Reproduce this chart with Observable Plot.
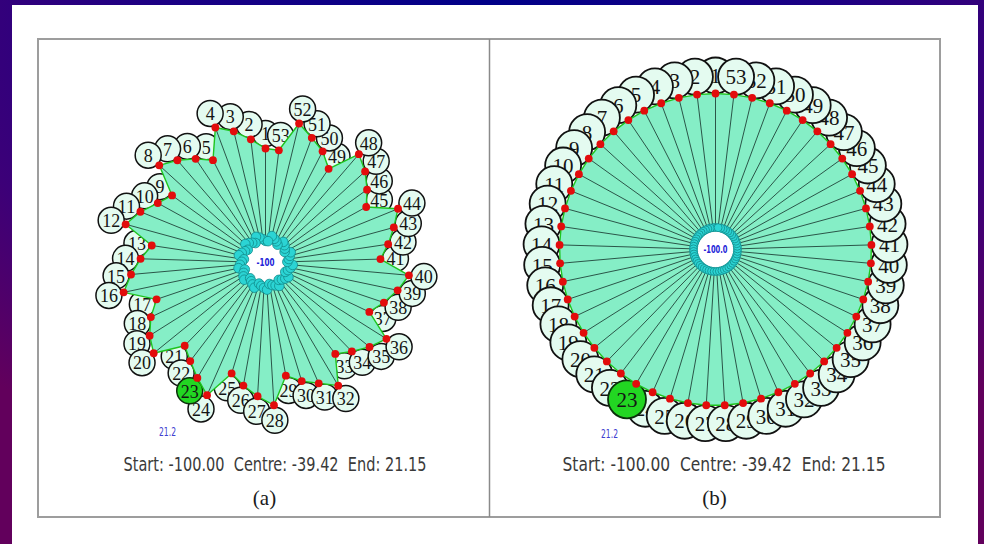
<!DOCTYPE html>
<html>
<head>
<meta charset="utf-8">
<script src="https://cdn.jsdelivr.net/npm/d3@7"></script>
<script src="https://cdn.jsdelivr.net/npm/@observablehq/plot@0.6"></script>
<style>
  html, body { margin: 0; padding: 0; }
  body {
    width: 984px; height: 544px; overflow: hidden; position: relative;
    background: radial-gradient(ellipse 75% 95% at 50% 0%, #000088 0%, #1c0084 45%, #3c0078 75%, #62005c 100%);
  }
  #panel { position: absolute; left: 12px; top: 5px; width: 966px; height: 539px; background: #ffffff; }
  #chart { position: absolute; left: 0; top: 0; }
</style>
</head>
<body>
<div id="panel"></div>
<div id="chart"></div>
<script>
// ---- data ----
const nodeIds = [1,2,3,4,5,6,7,8,9,10,11,12,13,14,15,16,17,18,19,20,21,22,23,24,25,26,27,28,29,30,31,32,33,34,35,36,37,38,39,40,41,42,43,44,45,46,47,48,49,50,51,52,53];
// (a) distance of each node from the centre
const distA = [114,124,135,144,115,125,135,144,115,123,135,145,115,125,135,145,115,127,137,144,116,124,134,145,116,125,134,143,115,124,132,143,115,124,134,143,115,125,135,144,115,124,133,143,115,125,135,143,113,125,133,143,113];
// (b) distance of each node from the centre
const distB = [156,156,156,156,156,156,156,156,156,156,156,156,156,156,156,156,156,156,156,156,156,156,156,156,156,156,156,156,156,156,156,156,156,156,156,156,156,156,156,156,156,156,156,156,156,156,156,156,156,156,156,156,156];
const selectedNode = 23;
const centreLabels = ["-100", "-100.0"];
const selectedValueLabels = ["21.2", "21.2"];
const statsLabels = ["Start: -100.00  Centre: -39.42  End: 21.15", "Start: -100.00  Centre: -39.42  End: 21.15"];
const panelLabels = ["(a)", "(b)"];

// ---- layout ----
const W = 984, H = 544;
const panels = [
  {cx: 265, cy: 262, inner: r => r * 0.19, labelAt: r => r + 15, circleR: 13, fontSize: 18, innerDotR: 4.8,
   valueX: 167, valueY: 431, statsX: 274.5, statsY: 464, statsLen: 303, tagX: 264, tagY: 498},
  {cx: 715, cy: 249, inner: r => 22, labelAt: r => 174, circleR: 18, fontSize: 21, innerDotR: 4,
   valueX: 609, valueY: 433, statsX: 723.5, statsY: 464, statsLen: 323, tagX: 714, tagY: 498}
];

function buildNodes(p, dist) {
  const n = nodeIds.length;
  return nodeIds.map((id, i) => {
    const t = i * 2 * Math.PI / n;
    const s = Math.sin(t), c = Math.cos(t);
    const r = dist[i], ri = p.inner(r), rl = p.labelAt(r);
    return {id, x: p.cx - r * s, y: p.cy - r * c, xi: p.cx - ri * s, yi: p.cy - ri * c, xl: p.cx - rl * s, yl: p.cy - rl * c};
  });
}

const marks = [];
// frame
marks.push(Plot.rect([0], {x1: 38, x2: 940, y1: 39, y2: 517, fill: "none", stroke: "#9d9d9d", strokeWidth: 2}));
marks.push(Plot.ruleX([489], {y1: 39, y2: 517, stroke: "#8a8a8a", strokeWidth: 1.5}));

[distA, distB].forEach((dist, pi) => {
  const p = panels[pi];
  const nodes = buildNodes(p, dist);
  const sw = pi === 0 ? 1.5 : 1.8;
  const order = nodes.filter(d => d.id !== selectedNode).concat(nodes.filter(d => d.id === selectedNode));
  for (const d of order) {
    const sel = d.id === selectedNode;
    marks.push(Plot.dot([d], {x: "xl", y: "yl", r: p.circleR + (sel && pi === 1 ? 1 : 0),
      fill: sel ? "#22d622" : "#e4fbf0", stroke: sel ? "#0b300b" : "#111111", strokeWidth: sw}));
    marks.push(Plot.text([d], {x: "xl", y: "yl", text: "id", fontFamily: "Liberation Serif, serif",
      fontSize: p.fontSize, fill: "#141414", dy: 1}));
  }
  // filled polygon
  marks.push(Plot.line(nodes, {x: "x", y: "y", curve: "linear-closed", fill: "#85eec6", stroke: "#1ec41e", strokeWidth: 1.4}));
  // inner hole
  marks.push(Plot.line(nodes, {x: "xi", y: "yi", curve: "linear-closed", fill: "#ffffff", stroke: "none"}));
  // spokes
  marks.push(Plot.link(nodes, {x1: "xi", y1: "yi", x2: "x", y2: "y", stroke: "#20443a", strokeWidth: 0.9}));
  // inner ring dots
  marks.push(Plot.dot(nodes, {x: "xi", y: "yi", r: p.innerDotR, fill: "#2bd4d4", stroke: "#128c8c", strokeWidth: 0.8}));
  // outer red dots
  marks.push(Plot.dot(nodes, {x: "x", y: "y", r: 3.9, fill: "#e20c0c"}));
});

marks.push(Plot.text(centreLabels, {x: (d, i) => panels[i].cx, y: (d, i) => panels[i].cy, text: d => d,
  fontFamily: "DejaVu Sans", fontSize: 11, fontWeight: "bold", fill: "#2424d8"}));
marks.push(Plot.text(selectedValueLabels, {x: (d, i) => panels[i].valueX, y: (d, i) => panels[i].valueY, text: d => d,
  fontFamily: "DejaVu Sans", fontSize: 13, fill: "#4040d0"}));
marks.push(Plot.text(statsLabels, {x: (d, i) => panels[i].statsX, y: (d, i) => panels[i].statsY, text: d => d,
  fontFamily: "DejaVu Sans", fontSize: 20, fill: "#3a3a3a"}));
marks.push(Plot.text(panelLabels, {x: (d, i) => panels[i].tagX, y: (d, i) => panels[i].tagY, text: d => d,
  fontFamily: "Liberation Serif, serif", fontSize: 21, fill: "#1a1a1a"}));

const svg = Plot.plot({
  width: W, height: H, margin: 0,
  x: {domain: [0, W], range: [0, W], axis: null},
  y: {domain: [0, H], range: [0, H], axis: null},
  style: {background: "transparent", overflow: "visible"},
  marks
});
document.getElementById("chart").appendChild(svg);

// condense text lines to the reference widths (matched by content)
function condense(match, lens) {
  let k = 0;
  d3.select(svg).selectAll("text").each(function() {
    if (this.textContent.trim().startsWith(match)) {
      const len = lens[k++ % lens.length];
      this.setAttribute("textLength", len);
      this.setAttribute("lengthAdjust", "spacingAndGlyphs");
    }
  });
}
condense("Start:", panels.map(p => p.statsLen));
condense("21.2", [17]);
condense("-100", [18, 24]);
</script>
</body>
</html>
